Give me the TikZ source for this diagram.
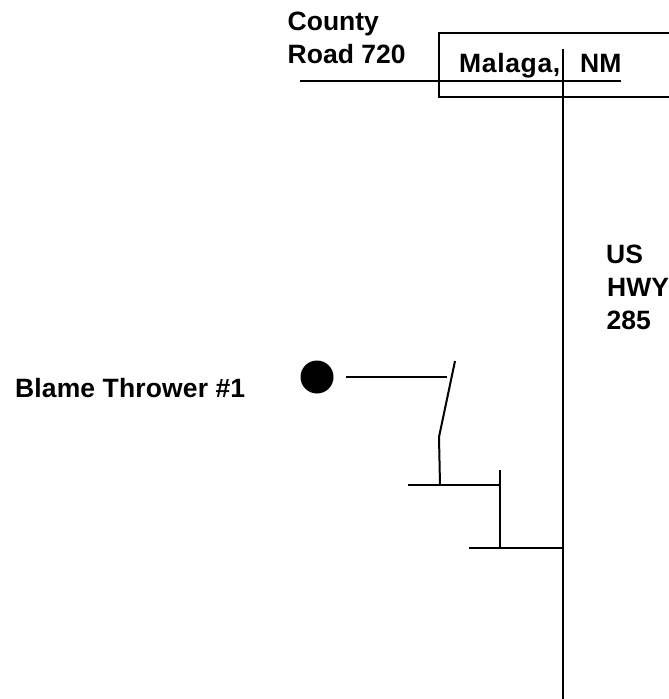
\documentclass[tikz,border=0pt]{standalone}
\usepackage{fontspec}
\setmainfont{Liberation Sans}
\begin{document}
\begin{tikzpicture}[x=1pt,y=-1pt,
  road/.style={draw=black,line width=2pt},
  lbl/.style={inner sep=0pt,anchor=base west,font=\fontsize{26.5}{30}\selectfont\bfseries,text=black}]
\useasboundingbox[fill=white] (0,0) rectangle (669,699);
\coordinate (boxTL) at (439,33);
\coordinate (boxTR) at (669,33);
\coordinate (boxBR) at (669,97);
\coordinate (boxBL) at (439,97);
\draw[road] (boxTR) -- (boxTL) -- (boxBL) -- (boxBR);
\coordinate (crW) at (300,81);
\coordinate (crE) at (621,81);
\draw[road] (crW) -- (crE);
\coordinate (hwyN) at (563,49);
\coordinate (hwyS) at (563,699);
\draw[road] (hwyN) -- (hwyS);
\node[lbl] (county) at (287.5,30.5) {County};
\node[lbl] (road) at (287.5,63) {Road 720};
\node[lbl] (malaga) at (459,72) {\addfontfeature{LetterSpace=2.5}Malaga,};
\node[lbl] (nm) at (580,72) {NM};
\node[lbl] (us) at (606,263) {US};
\node[lbl] (hwy) at (607,296) {HWY};
\node[lbl] (num) at (606.5,329) {285};
\node[lbl] (blame) at (15,397) {\addfontfeature{LetterSpace=0.5}Blame Thrower \#1};
\node[circle,fill=black,inner sep=0pt,minimum size=33pt] (well) at (317,377) {};
\coordinate (a) at (346,377);
\coordinate (b) at (447,377);
\draw[road] (a) -- (b);
\coordinate (c) at (455,361);
\coordinate (d) at (439,437);
\coordinate (e) at (440,485);
\draw[road] (c) -- (d) -- (e);
\coordinate (f) at (408,485);
\coordinate (g) at (500,485);
\draw[road] (f) -- (g);
\coordinate (h) at (500,470);
\coordinate (i) at (500,548);
\draw[road] (h) -- (i);
\coordinate (j) at (469,548);
\coordinate (k) at (563,548);
\draw[road] (j) -- (k);
\end{tikzpicture}
\end{document}
